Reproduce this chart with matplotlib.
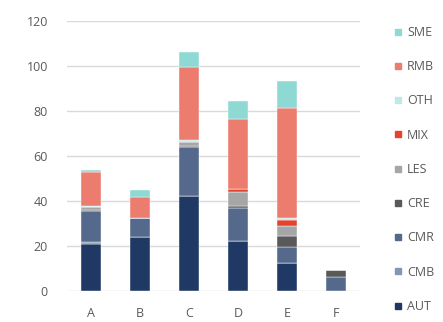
import matplotlib
matplotlib.use("Agg")
import matplotlib.pyplot as plt
from matplotlib.lines import Line2D

plt.rcParams['font.family'] = ['Open Sans', 'DejaVu Sans']

categories = ['A', 'B', 'C', 'D', 'E', 'F']
series = ['AUT', 'CMB', 'CMR', 'CRE', 'LES', 'MIX', 'OTH', 'RMB', 'SME']

AUT = [21.0, 24.0, 42.0, 22.0, 12.2, 0.0]
CMB = [0.6, 0.0, 0.0, 0.0, 0.0, 0.0]
CMR = [13.8, 8.2, 22.0, 14.8, 7.2, 5.9]
CRE = [0.5, 0.0, 0.5, 0.9, 4.8, 3.2]
LES = [1.3, 0.0, 1.5, 6.4, 4.7, 0.0]
MIX = [0.0, 0.0, 0.0, 1.0, 2.6, 0.0]
OTH = [0.5, 0.0, 1.2, 0.0, 0.7, 0.0]
RMB = [15.3, 9.6, 32.5, 31.3, 49.1, 0.0]
SME = [0.7, 3.1, 6.3, 8.0, 12.0, 0.0]

values = [AUT, CMB, CMR, CRE, LES, MIX, OTH, RMB, SME]
colors = ['#1f3864', '#8497b0', '#55698c', '#595959', '#a6a6a6',
          '#e5432c', '#bfe9e6', '#ec7c6e', '#8fd9d5']

fig = plt.figure(figsize=(4.43, 3.22), dpi=100)
ax = fig.add_axes([0.151, 0.097, 0.662, 0.838])

bottom = [0.0] * len(categories)
x = list(range(len(categories)))
for name, vals, col in zip(series, values, colors):
    ax.bar(x, vals, width=0.41, bottom=bottom, color=col, label=name,
           edgecolor='white', linewidth=0.3, zorder=3)
    bottom = [b + v for b, v in zip(bottom, vals)]

ax.set_ylim(0, 120)
ax.set_xlim(-0.5, 5.5)
ax.set_yticks(range(0, 121, 20))
ax.set_xticks(x)
ax.set_xticklabels(categories)
ax.grid(axis='y', color='#d9d9d9', linewidth=1, zorder=0)
for s in ax.spines.values():
    s.set_visible(False)
ax.tick_params(axis='both', length=0, colors='#595959', labelsize=9)
ax.tick_params(axis='y', pad=13.7)
ax.tick_params(axis='x', pad=12)

handles = [Line2D([], [], marker='s', linestyle='none', markersize=4.4,
                  markerfacecolor=c, markeredgecolor=c) for c in colors]
leg = fig.legend(handles[::-1], series[::-1], loc='upper left',
                 bbox_to_anchor=(0.875, 0.939), frameon=False,
                 fontsize=9, labelspacing=1.7, handlelength=0.6,
                 handletextpad=0.46, borderpad=0)
for t in leg.get_texts():
    t.set_color('#595959')

fig.savefig('out.png', dpi=100)
